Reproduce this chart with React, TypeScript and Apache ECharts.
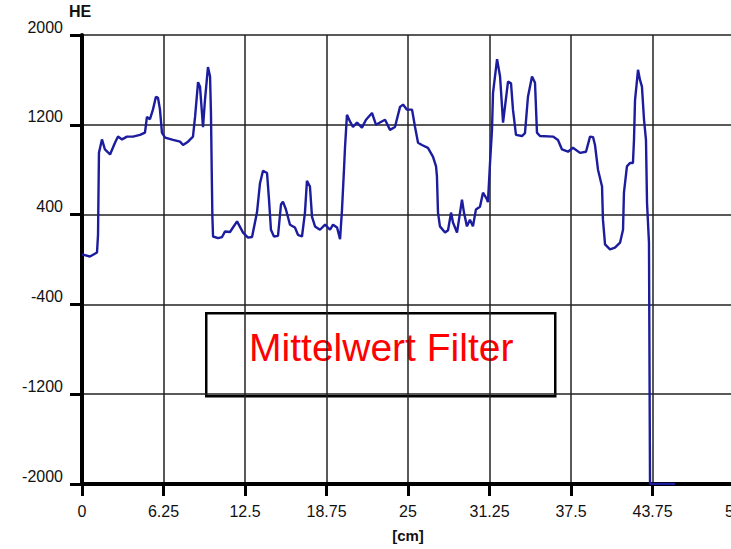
import React, { useEffect, useRef } from "react";
import * as echarts from "echarts";

// Position along the sample [cm]
const positions: number[] = [
  0.0, 0.61, 1.15, 1.23, 1.3, 1.53, 1.76, 1.99, 2.15, 2.53, 2.76, 3.07, 3.45, 3.91, 4.45, 4.83,
  4.98, 5.21, 5.44, 5.67, 5.83, 5.98, 6.13, 6.37, 6.98, 7.52, 7.75, 8.13, 8.51, 8.67, 8.9, 9.05,
  9.2, 9.28, 9.43, 9.66, 9.82, 9.89, 9.95, 10.0, 10.05, 10.43, 10.74, 10.97, 11.35, 11.89, 12.35,
  12.73, 13.04, 13.42, 13.65, 13.88, 14.19, 14.34, 14.49, 14.72, 15.03, 15.26, 15.41, 15.64, 15.95,
  16.33, 16.56, 16.87, 17.1, 17.25, 17.48, 17.64, 17.87, 18.25, 18.64, 19.02, 19.25, 19.56, 19.79,
  19.94, 20.09, 20.17, 20.25, 20.32, 20.55, 20.78, 21.09, 21.47, 21.78, 22.24, 22.55, 22.85, 23.24,
  23.62, 24.0, 24.39, 24.62, 24.92, 25.31, 25.54, 25.77, 26.07, 26.53, 26.92, 27.15, 27.22, 27.3,
  27.45, 27.84, 28.07, 28.3, 28.45, 28.76, 29.14, 29.29, 29.52, 29.75, 29.98, 30.21, 30.52, 30.75,
  31.06, 31.13, 31.29, 31.44, 31.52, 31.83, 32.06, 32.29, 32.67, 32.9, 33.05, 33.28, 33.74, 33.97,
  34.2, 34.51, 34.74, 34.89, 35.12, 36.12, 36.5, 36.81, 37.27, 37.65, 38.19, 38.65, 38.96, 39.19,
  39.34, 39.57, 39.88, 39.95, 40.11, 40.49, 40.87, 41.26, 41.49, 41.56, 41.79, 42.02, 42.25, 42.33,
  42.41, 42.64, 42.79, 42.94, 43.1, 43.25, 43.33, 43.48, 43.56, 45.48,
];

// HE values (Mittelwert filter)
const heValues: number[] = [
  45, 27, 62, 222, 950, 1070, 980, 955, 935, 1040, 1095, 1070, 1095, 1095, 1110, 1130,
  1270, 1250, 1335, 1450, 1440, 1335, 1130, 1085, 1065, 1050, 1020, 1050, 1095, 1270, 1580, 1540,
  1305, 1180, 1420, 1715, 1630, 1305, 770, 380, 205, 190, 200, 250, 245, 340, 240,
  195, 200, 420, 680, 790, 770, 535, 265, 205, 210, 490, 515, 445, 310,
  285, 220, 205, 420, 700, 650, 380, 295, 265, 310, 265, 310, 285, 180,
  445, 800, 1000, 1155, 1290, 1230, 1180, 1220, 1175, 1245, 1305, 1200, 1220, 1245,
  1155, 1180, 1360, 1380, 1335, 1335, 1180, 1040, 1020, 995, 915, 830, 740, 418,
  295, 240, 260, 418, 330, 240, 533, 420, 295, 355, 295, 445, 470, 595,
  535, 510, 860, 1155, 1485, 1785, 1630, 1220, 1585, 1570, 1335, 1110, 1100, 1125,
  1450, 1630, 1575, 1130, 1100, 1095, 1065, 980, 960, 995, 950, 960, 1095, 1090,
  1020, 800, 650, 355, 135, 90, 105, 150, 265, 595, 830, 860, 860, 1065,
  1420, 1690, 1600, 1540, 1245, 1065, 505, 150, -2000, -2000,
];

const xTickLabels: string[] = ["0", "6.25", "12.5", "18.75", "25", "31.25", "37.5", "43.75", "50"];
const yTickLabels: string[] = ["-2000", "-1200", "-400", "400", "1200", "2000"];

const FONT = "'Liberation Sans', Arial, sans-serif";

export default function App() {
  const ref = useRef<HTMLDivElement>(null);

  useEffect(() => {
    if (!ref.current) return;
    const chart = echarts.init(ref.current, undefined, { renderer: "svg" });
    const data = positions.map((p, i) => [p, heValues[i]]);
    const xMin = Number(xTickLabels[0]);
    const xMax = Number(xTickLabels[xTickLabels.length - 1]);
    const yMin = Number(yTickLabels[0]);
    const yMax = Number(yTickLabels[yTickLabels.length - 1]);

    chart.setOption({
      animation: false,
      backgroundColor: "#ffffff",
      grid: {
        left: 82,
        top: 35,
        right: -3,
        bottom: 65,
        containLabel: false,
        outerBoundsMode: "none",
      },
      xAxis: {
        type: "value",
        min: xMin,
        max: xMax,
        interval: Number(xTickLabels[1]) - xMin,
        name: "[cm]",
        nameLocation: "middle",
        nameGap: 44,
        nameTextStyle: { fontFamily: FONT, fontWeight: "bold", fontSize: 15, color: "#111" },
        axisLine: { show: true, onZero: false, lineStyle: { color: "#000", width: 4 } },
        axisTick: { show: true, inside: false, length: 12, lineStyle: { color: "#000", width: 3 } },
        axisLabel: {
          show: true,
          margin: 19,
          fontFamily: FONT,
          fontSize: 16,
          color: "#111",
          showMaxLabel: true,
          showMinLabel: true,
          hideOverlap: false,
          formatter: (v: number) => String(v),
        },
        splitLine: { show: true, lineStyle: { color: "#222", width: 1.5 } },
      },
      yAxis: {
        type: "value",
        min: yMin,
        max: yMax,
        interval: Number(yTickLabels[1]) - yMin,
        name: "HE",
        nameLocation: "end",
        nameGap: 10,
        nameTextStyle: {
          fontFamily: FONT,
          fontWeight: "bold",
          fontSize: 16,
          color: "#111",
          align: "center",
          verticalAlign: "bottom",
          padding: [0, 4, 0, 0],
        },
        axisLine: { show: true, onZero: false, lineStyle: { color: "#000", width: 4 } },
        axisTick: { show: true, inside: false, length: 12, lineStyle: { color: "#000", width: 3 } },
        axisLabel: {
          show: true,
          margin: 19,
          fontFamily: FONT,
          fontSize: 16,
          color: "#111",
          verticalAlign: "bottom",
          lineHeight: 16,
          showMaxLabel: true,
          showMinLabel: true,
          formatter: (v: number) => String(v),
        },
        splitLine: { show: true, lineStyle: { color: "#222", width: 1.5 } },
      },
      series: [
        {
          type: "line",
          data,
          showSymbol: false,
          symbol: "none",
          smooth: false,
          clip: true,
          lineStyle: { color: "#1c1c9e", width: 2.4 },
          z: 3,
        },
      ],
      graphic: [
        {
          type: "group",
          left: 205,
          top: 312,
          z: 100,
          children: [
            {
              type: "rect",
              shape: { x: 0, y: 0, width: 349, height: 83 },
              style: { fill: "#ffffff", stroke: "#000000", lineWidth: 2.5 },
            },
            {
              type: "text",
              x: 175,
              y: 34,
              style: {
                text: "Mittelwert Filter",
                fill: "#ff0000",
                fontFamily: FONT,
                fontSize: 39,
                align: "center",
                verticalAlign: "middle",
              },
            },
          ],
        },
      ],
    });

    return () => {
      chart.dispose();
    };
  }, []);

  return (
    <div
      ref={ref}
      style={{ position: "fixed", left: 0, top: 0, width: 731, height: 549, overflow: "hidden", background: "#fff" }}
    />
  );
}
